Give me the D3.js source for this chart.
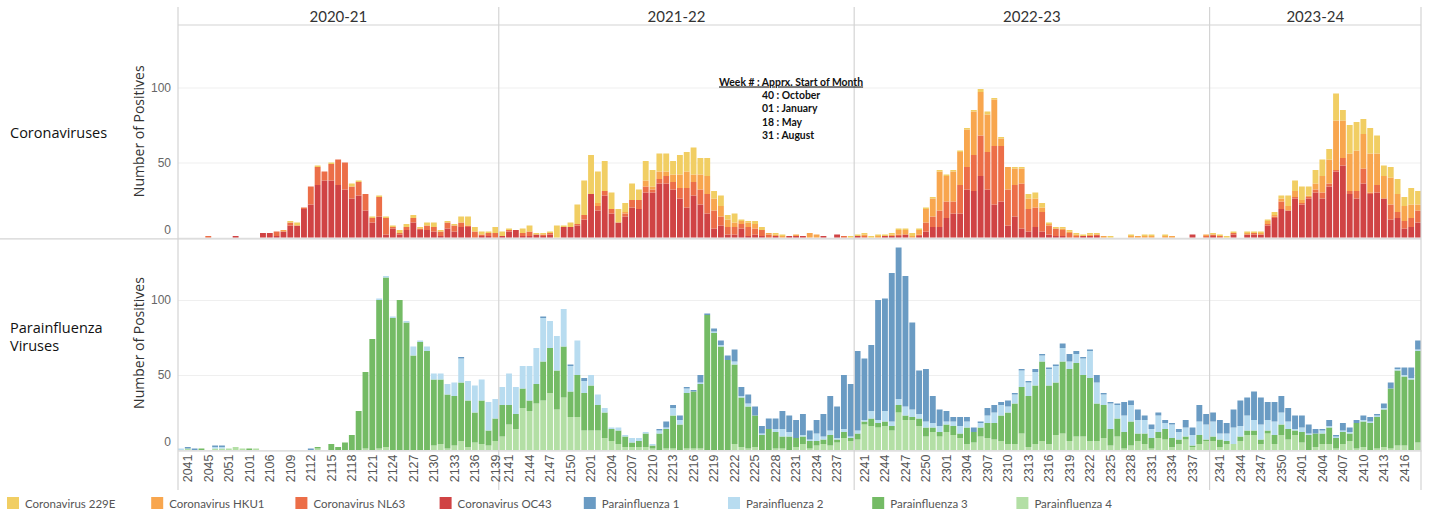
<!DOCTYPE html>
<meta charset="utf-8">
<style>
body { margin: 0; background: #fff; }
svg { display: block; font-family: Lato, "Open Sans", sans-serif; }
</style>
<svg width="1437" height="515"></svg>
<script src="https://d3js.org/d3.v7.min.js"></script>
<script>

// week labels (yyww), one bar each; seasons run from week 40 to week 39
var weeks = [].concat(
  "2040 2041 2043 2044 2045 2047 2049 2051 2052 2053 2101 2103 2104 2106 2107 2108 2109 2110 2111 2112 2113 2114 2115 2116 2117 2118 2119 2120 2121 2122 2123 2124 2125 2126 2127 2128 2129 2130 2131 2132 2133 2134 2135 2136 2137 2138 2139".split(" "),
  "2140 2141 2142 2143 2144 2145 2146 2147 2148 2149 2150 2151 2152 2201 2202 2203 2204 2205 2206 2207 2208 2209 2210 2211 2212 2213 2214 2215 2216 2217 2218 2219 2220 2221 2222 2223 2224 2225 2226 2227 2228 2229 2230 2231 2232 2233 2234 2235 2236 2237 2238 2239".split(" "),
  "2240 2241 2242 2243 2244 2245 2246 2247 2248 2249 2250 2251 2252 2301 2302 2303 2304 2305 2306 2307 2308 2309 2310 2311 2312 2313 2314 2315 2316 2317 2318 2319 2320 2321 2322 2323 2324 2325 2326 2327 2328 2329 2330 2331 2332 2333 2334 2335 2336 2337 2338 2339".split(" "),
  "2340 2341 2342 2343 2344 2345 2346 2347 2348 2349 2350 2351 2352 2401 2402 2403 2404 2405 2406 2407 2408 2409 2410 2411 2412 2413 2414 2415 2416 2417 2418".split(" ")
);

var seasons = ["2020-21", "2021-22", "2022-23", "2023-24"];

var tickLabels = [
  "2041","2045","2051","2101","2106","2109","2112","2115","2118","2121","2124","2127","2130","2133","2136","2139",
  "2141","2144","2147","2150","2201","2204","2207","2210","2213","2216","2219","2222","2225","2228","2231","2234","2237",
  "2241","2244","2247","2250","2301","2304","2307","2310","2313","2316","2319","2322","2325","2328","2331","2334","2337",
  "2341","2344","2347","2350","2401","2404","2407","2410","2413","2416"
];

var cov229E = [
  0,0,0,0,0,0,0,0,0,0, 0,0,0,0,0,0,1,2,0,0, 1,0,1,0,0,2,1,0,1,1, 1,1,2,2,2,1,2,3,1,1, 1,4,6,3,2,1,4,
  3,1,0,3,4,1,1,1,8,1, 3,13,23,26,21,20,11,9,6,11, 7,13,11,12,12,9,13,13,18,11, 12,5,7,3,6,1,1,2,2,0, 1,1,0,0,0,0,0,0,0,0, 0,1,
  1,1,1,1,1,1,1,1,2,1, 1,1,1,1,1,1,1,1,2,2, 1,1,0,1,1,3,4,3,1,1, 1,1,1,1,1,1,0,1,0,0, 1,0,1,1,0,1,0,0,0,0, 0,0,
  1,1,1,1,0,1,1,1,1,2, 2,7,7,9,6,9,11,7,18,7, 19,19,10,17,12,7,7,10,6,11, 9
];
var covHKU1 = [
  0,0,0,0,0,0,0,0,0,0, 0,0,0,0,0,1,0,0,0,0, 0,0,0,0,0,0,0,0,0,0, 0,0,0,0,0,0,0,0,0,0, 0,0,0,0,0,0,0,
  0,0,0,0,0,0,0,0,0,0, 0,0,0,0,2,0,0,0,1,0, 0,4,2,5,3,5,9,11,5,10, 12,8,7,5,3,2,3,3,0,1, 1,1,0,1,0,3,2,0,0,0, 0,0,
  0,1,0,1,0,1,3,3,1,3, 9,12,26,17,20,22,25,29,29,25, 31,5,15,11,10,7,6,3,1,0, 1,1,1,0,1,0,1,0,0,0, 1,1,1,1,0,1,1,0,0,0, 0,1,
  0,0,0,0,0,1,0,1,2,1, 2,3,4,2,1,4,11,16,33,25, 25,27,23,26,21,15,18,12,10,9, 4
];
var covNL63 = [
  0,0,0,0,1,0,0,0,0,0, 0,0,0,0,3,0,2,0,1,12, 12,6,11,17,18,8,9,11,3,13, 11,1,1,2,3,1,3,3,3,4, 4,3,1,4,1,2,3,
  0,1,0,2,3,0,1,1,0,0, 0,1,3,0,3,3,3,0,2,5, 6,4,2,3,5,5,7,13,9,10, 13,12,6,5,5,3,6,4,4,2, 0,0,0,0,0,0,0,0,0,0, 1,0,
  0,1,0,0,0,0,1,0,0,1, 6,7,11,11,8,19,15,24,27,25, 39,37,24,21,30,15,13,13,6,5, 4,3,1,0,0,1,0,0,0,0, 0,0,0,0,0,0,0,0,0,0, 0,1,
  1,1,0,1,0,0,1,0,1,1, 5,0,1,1,1,2,4,2,1,5, 2,5,10,1,5,0,10,4,5,6, 8
];
var covOC43 = [
  0,0,0,0,0,0,0,0,1,0, 0,0,3,3,1,4,8,8,19,22, 35,38,38,35,32,26,28,18,10,14, 2,6,2,5,10,5,5,4,1,6, 4,7,7,0,1,1,0,
  1,4,5,1,1,2,1,2,0,7, 7,8,12,29,18,28,16,10,14,20, 19,30,30,36,36,32,26,20,28,22, 16,6,8,2,2,6,1,2,1,0, 1,0,1,1,1,0,0,1,0,2, 0,0,
  1,0,0,0,1,1,1,2,0,1, 4,7,7,13,16,16,32,31,41,32, 22,24,8,14,6,4,7,4,2,1, 1,0,0,1,1,1,0,0,0,0, 0,0,0,0,0,0,0,0,0,2, 0,0,
  1,0,0,2,0,2,2,2,8,13, 19,18,26,22,26,30,26,34,44,48, 29,26,36,29,30,26,12,13,6,7, 10
];
var piv1 = [
  0,1,1,0,0,1,1,0,0,0, 0,0,0,0,0,0,0,0,0,1, 0,0,0,0,0,0,0,0,0,0, 0,0,0,0,0,0,0,0,0,0, 0,1,0,0,0,0,0,
  0,0,0,0,0,0,1,0,0,0, 1,0,2,0,0,0,0,0,0,0, 0,0,0,1,4,2,3,1,1,5, 1,2,3,3,8,6,6,6,5,7, 7,12,11,12,14,6,9,15,23,21, 36,35,
  53,41,44,80,75,99,101,87,58,29, 35,18,11,7,3,6,3,3,1,5, 5,2,4,1,1,1,2,1,1,1, 3,5,2,1,1,5,1,1,1,9, 3,7,3,3,2,2,1,2,5,5, 11,7,
  6,9,7,12,17,12,19,18,12,13, 11,9,9,8,6,3,1,4,1,5, 3,2,3,3,1,3,4,1,5,7, 6
];
var piv2 = [
  1,0,0,0,0,1,1,0,0,0, 0,0,0,0,0,0,0,0,0,0, 0,0,0,0,0,0,0,0,0,1, 1,1,0,1,6,1,3,4,4,7, 9,16,13,18,14,19,13,
  12,21,18,15,23,24,29,18,23,25, 17,23,8,7,7,3,1,2,1,3, 2,1,1,2,1,5,3,3,0,1, 0,1,1,0,2,1,2,0,1,0, 2,5,3,0,1,1,5,2,3,1, 2,1,
  2,1,5,2,7,3,4,6,5,3, 4,3,4,2,3,5,4,0,3,5, 7,7,4,6,11,9,9,4,11,11, 9,5,6,11,18,14,7,17,9,11, 11,9,9,6,11,4,9,5,6,7, 9,10,
  10,4,5,11,7,10,7,10,7,9, 8,5,1,3,1,0,2,1,1,1, 1,0,1,1,1,1,0,1,1,1, 1
];
var piv3 = [
  0,0,0,1,0,0,0,0,0,0, 1,0,0,0,0,0,0,0,0,0, 1,0,4,2,5,10,26,51,74,99, 113,88,100,85,63,72,66,44,43,36, 33,39,31,20,29,10,15,
  21,13,10,13,7,13,26,30,26,34, 17,28,25,30,17,17,8,9,7,3, 4,9,2,11,13,22,17,37,38,43, 90,78,69,60,53,33,28,21,10,14, 11,8,9,6,5,5,3,3,7,2, 4,2,
  4,2,5,3,3,3,5,3,2,5, 6,3,3,5,6,3,11,7,6,10, 11,17,21,27,31,34,39,53,39,35, 48,48,49,41,42,25,22,11,12,11, 16,5,7,7,4,7,6,3,2,1, 6,1,
  3,5,2,0,3,3,3,3,2,6, 7,7,3,7,10,9,7,11,7,8, 5,17,17,18,21,25,40,50,46,47, 61
];
var piv4 = [
  0,1,0,0,0,1,1,1,2,1, 0,1,0,0,0,0,0,0,0,0, 1,0,0,0,0,0,0,1,0,1, 2,0,0,0,0,0,0,3,4,1, 3,6,2,5,4,3,6,
  9,17,14,28,26,31,33,38,27,35, 22,22,13,13,13,8,6,4,2,2, 2,2,1,0,1,1,0,1,1,1, 0,0,0,0,4,2,1,2,0,0, 1,1,0,2,4,1,3,4,3,5, 8,6,
  7,17,16,15,16,13,25,20,20,16, 9,12,9,12,10,8,4,5,9,8, 7,6,4,4,11,2,4,6,4,10, 11,6,9,9,6,6,8,3,9,1, 3,6,4,1,8,7,2,4,7,2, 4,6,
  6,2,4,4,6,10,10,4,11,4, 10,7,10,5,0,2,4,4,1,4, 6,1,2,0,1,2,1,3,3,0, 5
];

var legendLabels = ["Coronavirus 229E", "Coronavirus HKU1", "Coronavirus NL63", "Coronavirus OC43",
                    "Parainfluenza 1", "Parainfluenza 2", "Parainfluenza 3", "Parainfluenza 4"];
var legendColors = ["#f1ce63", "#f8a64e", "#ec6e48", "#d04344",
                    "#6a9bc3", "#b8dcf0", "#74bb65", "#b3dfa5"];

var monthNotes = ["40 : October", "01 : January", "18 : May", "31 : August"];

var svg = d3.select("svg"),
    left = 178, right = 1421;

var color = d3.scaleOrdinal().domain(legendLabels).range(legendColors);

function seasonOf(w) {
  var yy = +w.slice(0, 2), wk = +w.slice(2);
  return wk >= 40 ? "20" + yy + "-" + (yy + 1) : "20" + (yy - 1) + "-" + yy;
}

var table = weeks.map(function(w, i) {
  return {
    week: w,
    "Coronavirus 229E": cov229E[i], "Coronavirus HKU1": covHKU1[i],
    "Coronavirus NL63": covNL63[i], "Coronavirus OC43": covOC43[i],
    "Parainfluenza 1": piv1[i], "Parainfluenza 2": piv2[i],
    "Parainfluenza 3": piv3[i], "Parainfluenza 4": piv4[i]
  };
});

var x = d3.scaleBand()
    .domain(weeks)
    .range([left, right])
    .paddingInner(0.14)
    .paddingOuter(0);

var gap = x.step() - x.bandwidth();

var panels = [
  {label: ["Coronaviruses"], keys: ["Coronavirus OC43", "Coronavirus NL63", "Coronavirus HKU1", "Coronavirus 229E"],
   y: d3.scaleLinear().domain([0, 100]).range([237.5, 87.5]), top: 25, labelY: 138},
  {label: ["Parainfluenza", "Viruses"], keys: ["Parainfluenza 4", "Parainfluenza 3", "Parainfluenza 2", "Parainfluenza 1"],
   y: d3.scaleLinear().domain([0, 100]).range([450, 300]), top: 236, labelY: 342}
];

// gridlines + y axes
panels.forEach(function(p) {
  var g = svg.append("g")
      .attr("transform", "translate(" + left + ",0)")
      .call(d3.axisLeft(p.y).tickValues([0, 50, 100]).tickSize(-(right - left)).tickPadding(7));
  g.select(".domain").remove();
  g.selectAll(".tick line").attr("stroke", "#efefef").attr("stroke-width", 1);
  g.selectAll(".tick text")
      .attr("fill", "#666")
      .style("font-size", "12px")
      .attr("dy", function(d) { return d === 0 ? "-0.35em" : "0.32em"; });
});

// stacked bars
panels.forEach(function(p) {
  var series = d3.stack().keys(p.keys)(table);
  svg.append("g").selectAll("g")
    .data(series)
    .join("g")
      .attr("fill", function(s) { return color(s.key); })
    .selectAll("rect")
    .data(function(s) { return s; })
    .join("rect")
      .attr("x", function(d) { return x(d.data.week); })
      .attr("width", x.bandwidth())
      .attr("y", function(d) { return p.y(d[1]); })
      .attr("height", function(d) { return p.y(d[0]) - p.y(d[1]); });

  var t = svg.append("text")
      .attr("x", 10)
      .attr("y", p.labelY - (p.label.length - 1) * 9)
      .attr("fill", "#111")
      .style("font-family", "'Open Sans', sans-serif")
      .style("font-size", "14.5px");
  p.label.forEach(function(s, i) {
    t.append("tspan").attr("x", 10).attr("dy", i ? 18 : 0).text(s);
  });

  svg.append("text")
      .attr("transform", "translate(144," + (p.y.range()[0] + p.top) / 2 + ")rotate(-90)")
      .attr("text-anchor", "middle")
      .attr("fill", "#333")
      .style("font-family", "'Open Sans', sans-serif")
      .style("font-size", "14px")
      .text("Number of Positives");
});

// season boundaries and headers
var bounds = seasons.map(function(s) {
  var ws = weeks.filter(function(w) { return seasonOf(w) === s; });
  return {season: s,
          x0: x(ws[0]) - (ws[0] === weeks[0] ? 0 : gap / 2),
          x1: x(ws[ws.length - 1]) + x.bandwidth() + (ws[ws.length - 1] === weeks[weeks.length - 1] ? 0 : gap / 2)};
});

svg.append("g").selectAll("line")
  .data([left].concat(bounds.map(function(b) { return b.x1; })))
  .join("line")
    .attr("x1", function(d) { return d; })
    .attr("x2", function(d) { return d; })
    .attr("y1", 7)
    .attr("y2", 490)
    .attr("stroke", "#d4d4d4")
    .attr("stroke-width", 1.2);

svg.append("line").attr("x1", left).attr("x2", right).attr("y1", 25).attr("y2", 25)
    .attr("stroke", "#d4d4d4").attr("stroke-width", 1.2);
svg.append("line").attr("x1", 0).attr("x2", right).attr("y1", 238.8).attr("y2", 238.8)
    .attr("stroke", "#d4d4d4").attr("stroke-width", 1.2);

svg.append("g").selectAll("text")
  .data(bounds)
  .join("text")
    .attr("x", function(b) { return (b.x0 + b.x1) / 2; })
    .attr("y", 22)
    .attr("text-anchor", "middle")
    .attr("fill", "#333")
    .style("font-size", "15px")
    .text(function(b) { return b.season; });

// x axis
var xa = svg.append("g")
    .attr("transform", "translate(0,450.5)")
    .call(d3.axisBottom(x).tickValues(tickLabels).tickSize(0));
xa.select(".domain").attr("stroke", "#cfcfcf").attr("stroke-width", 1.2);
xa.selectAll(".tick text")
    .attr("transform", "rotate(-90)")
    .attr("text-anchor", "end")
    .attr("x", -4)
    .attr("y", 0)
    .attr("dy", "0.35em")
    .attr("fill", "#555")
    .style("font-family", "'Liberation Sans', Arial, sans-serif")
    .style("font-size", "12.5px");

// week / month annotation
var note = svg.append("g").attr("fill", "#111")
    .style("font-size", "10.4px").style("font-weight", "bold");
note.append("text")
    .attr("x", 719).attr("y", 85.5)
    .style("text-decoration", "underline")
    .text("Week # : Apprx. Start of Month");
note.selectAll(".m")
  .data(monthNotes)
  .join("text")
    .attr("class", "m")
    .attr("x", 762)
    .attr("y", function(d, i) { return 99 + i * 13.4; })
    .text(function(d) { return d; });

// legend
var lg = svg.append("g").selectAll("g")
  .data(legendLabels)
  .join("g")
    .attr("transform", function(d, i) { return "translate(" + (7 + i * 144.2) + ",497)"; });
lg.append("rect").attr("width", 12).attr("height", 12).attr("fill", function(d) { return color(d); });
lg.append("text")
    .attr("x", 18).attr("y", 10.5)
    .attr("fill", "#555")
    .style("font-size", "11.5px")
    .text(function(d) { return d; });

</script>
